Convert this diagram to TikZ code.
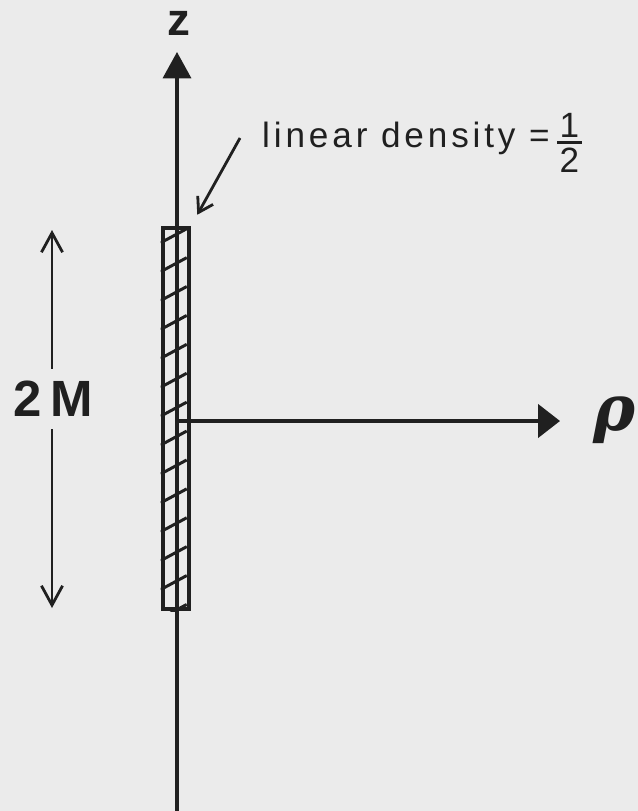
\documentclass[tikz,border=0pt]{standalone}
\usepackage{fontspec}
\setmainfont{Liberation Sans}
\newfontfamily\spacedfont[LetterSpace=11]{Liberation Sans}
\newfontfamily\rhofont{DejaVu Serif}
\usetikzlibrary{arrows.meta}
\definecolor{paper}{HTML}{EBEBEB}
\definecolor{ink}{HTML}{202020}
\tikzset{
	axis/.style={draw=ink, line width=1.8pt},
	rod/.style={draw=ink, line width=2.6pt, minimum width=0.52cm, minimum height=7.62cm, inner sep=0pt},
	hatch/.style={draw=ink, line width=1.7pt},
	barb/.style={draw=ink, line width=1.6pt, -{Straight Barb[length=11pt,width=12pt]}},
	biglabel/.style={text=ink, font=\bfseries\fontsize{29}{29}\selectfont},
	textlabel/.style={text=ink, font=\spacedfont\fontsize{20}{24}\selectfont},
}
\begin{document}
\begin{tikzpicture}[x=0.02cm, y=-0.02cm]
			\fill[paper] (0,0) rectangle (638,811);
			\useasboundingbox (0,0) rectangle (638,811);
			\node[rod] (rod) at (176,418.5) {};
			\begin{scope}
				\clip (rod.north west) rectangle (rod.south east);
				\foreach \k in {0,...,13}
					\draw[hatch] (rod.north west) ++(0,17+28.9*\k) -- ++(26,-14);
			\end{scope}
			\coordinate (bottom) at (177,811);
			\coordinate (ztip) at (177,52);
			\coordinate (origin) at (177,421);
			\coordinate (rhotip) at (560,421);
			\draw[axis, -{Triangle[length=15pt,width=16pt]}] (bottom) -- (ztip);
			\draw[axis, -{Triangle[length=12.5pt,width=19pt]}] (origin) -- (rhotip);
			\node[text=ink, font=\bfseries\fontsize{26}{26}\selectfont] (zlabel) at (179,23.5) {z};
			\node[text=ink, font=\rhofont\bfseries\itshape\fontsize{36}{36}\selectfont] (rholabel) at (615,420) {ρ};
			\node[biglabel, inner xsep=0pt, inner ysep=7pt] (masslabel) at (53,399) {2\,M};
			\coordinate (masstop) at (52,230);
			\coordinate (massbottom) at (52,608);
			\draw[barb] (masslabel.north -| masstop) -- (masstop);
			\draw[barb] (masslabel.south -| massbottom) -- (massbottom);
			\node[textlabel, anchor=base west] (density) at (256,148) {linear density =};
			\node[textlabel, anchor=base] (numerator) at (569.5,137) {1};
			\node[textlabel, anchor=base] (denominator) at (569.5,173) {2};
			\draw[ink, line width=1.6pt] (557,142.5) -- (582,142.5);
			\draw[barb, -{Straight Barb[length=8pt,width=10pt]}] ([shift={(-16,-10)}]density.base west) -- ([shift={(6,-11)}]rod.north east);
		\end{tikzpicture}
\end{document}
